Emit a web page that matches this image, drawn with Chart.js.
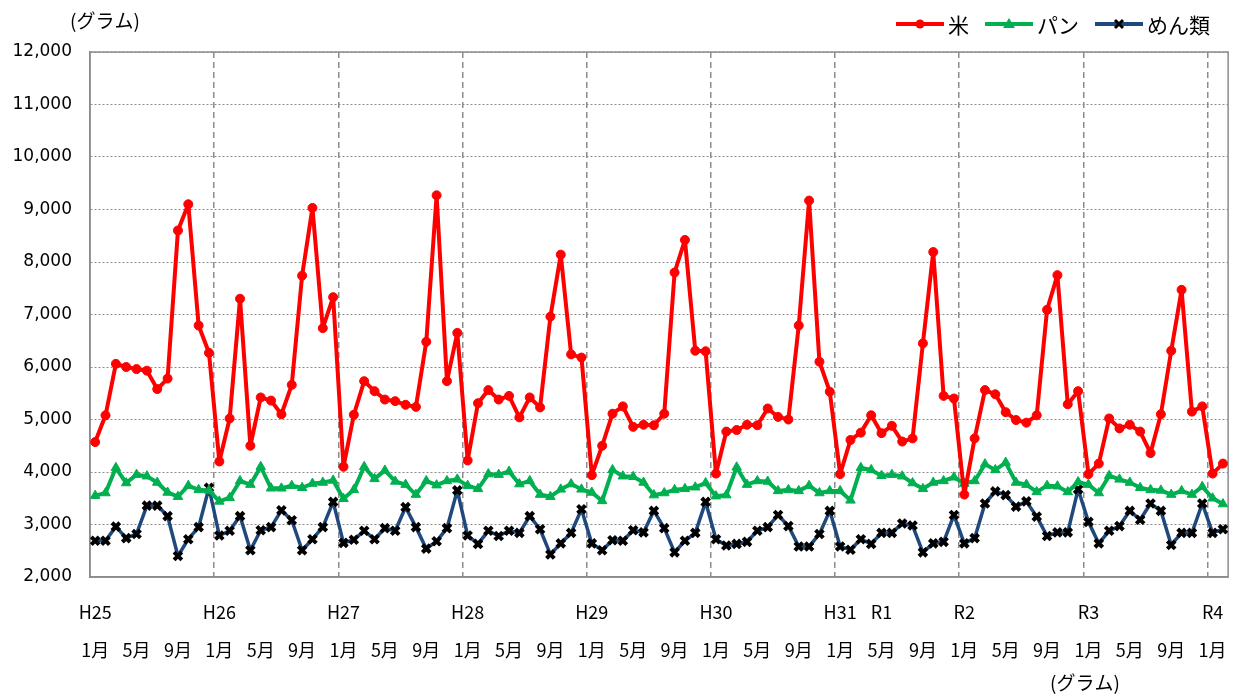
<!DOCTYPE html>
<html>
<head>
<meta charset="utf-8">
<script src="https://cdn.jsdelivr.net/npm/chart.js@4/dist/chart.umd.min.js"></script>
<style>
  html, body { margin: 0; padding: 0; background: #fff; }
  canvas { display: block; }
</style>
</head>
<body>
<canvas id="myChart" width="1239" height="695"></canvas>
<script>
// monthly values, H25 1月 .. R4 2月 (110 months)
const rice = [
  4570, 5080, 6060, 6000, 5960, 5930, 5580, 5780, 8600, 9100, 6790, 6270,
  4200, 5020, 7300, 4500, 5420, 5360, 5100, 5660, 7740, 9030, 6740, 7330,
  4100, 5090, 5730, 5540, 5380, 5350, 5280, 5240, 6480, 9270, 5730, 6650,
  4220, 5310, 5560, 5380, 5450, 5040, 5420, 5230, 6960, 8140, 6240, 6180,
  3940, 4500, 5110, 5250, 4860, 4900, 4890, 5110, 7800, 8420, 6310, 6300,
  3970, 4770, 4800, 4900, 4890, 5210, 5050, 5000, 6790, 9170, 6100, 5530,
  3960, 4610, 4750, 5080, 4740, 4880, 4580, 4640, 6450, 8190, 5450, 5400,
  3570, 4640, 5560, 5480, 5140, 4990, 4940, 5080, 7090, 7750, 5290, 5540,
  3960, 4160, 5020, 4830, 4900, 4770, 4360, 5100, 6310, 7470, 5150, 5250,
  3970, 4160
];
const bread = [
  3550, 3600, 4080, 3790, 3950, 3920, 3800, 3610, 3530, 3740, 3660, 3650,
  3440, 3510, 3830, 3760, 4100, 3690, 3690, 3740, 3700, 3780, 3800, 3840,
  3490, 3660, 4100, 3870, 4030, 3820, 3760, 3570, 3830, 3750, 3830, 3860,
  3740, 3680, 3960, 3950, 4010, 3770, 3830, 3570, 3530, 3670, 3770, 3670,
  3610, 3450, 4040, 3920, 3910, 3800, 3560, 3600, 3660, 3680, 3710, 3790,
  3540, 3560, 4090, 3760, 3830, 3820, 3640, 3660, 3640, 3740, 3600, 3640,
  3640, 3460, 4080, 4040, 3930, 3950, 3920, 3790, 3680, 3800, 3830, 3900,
  3780, 3830, 4150, 4040, 4180, 3800, 3760, 3620, 3740, 3730, 3620, 3810,
  3760, 3600, 3930, 3860, 3800, 3700, 3660, 3650, 3570, 3640, 3570, 3720,
  3500, 3390
];
const noodles = [
  2690, 2690, 2960, 2740, 2820, 3360, 3360, 3160, 2400, 2720, 2950, 3700,
  2790, 2880, 3160, 2510, 2890, 2950, 3270, 3080, 2510, 2720, 2950, 3430,
  2650, 2710, 2880, 2720, 2930, 2880, 3330, 2950, 2540, 2680, 2930, 3650,
  2790, 2630, 2880, 2780, 2880, 2840, 3160, 2910, 2430, 2640, 2840, 3290,
  2640, 2510, 2700, 2690, 2890, 2850, 3260, 2930, 2470, 2690, 2840, 3430,
  2720, 2600, 2630, 2670, 2880, 2950, 3180, 2970, 2580, 2580, 2820, 3260,
  2580, 2520, 2720, 2630, 2840, 2840, 3020, 2980, 2470, 2640, 2670, 3180,
  2640, 2740, 3400, 3630, 3560, 3340, 3440, 3150, 2780, 2850, 2850, 3670,
  3050, 2640, 2880, 2970, 3260, 3090, 3400, 3260, 2610, 2840, 2840, 3400,
  2840, 2910
];

// era labels and the month they sit on
const eraNames = ['H25', 'H26', 'H27', 'H28', 'H29', 'H30', 'H31', 'R1', 'R2', 'R3', 'R4'];
const eraIndex = [0, 12, 24, 36, 48, 60, 72, 76, 84, 96, 108];
const monthTicks = ['1月', '5月', '9月'];
const monthTickPos = [0, 4, 8];

const categories = [];
for (let i = 0; i < rice.length; i++) {
  const y = 2013 + Math.floor(i / 12);
  categories.push(y + '-' + ((i % 12) + 1));
}

const FONT = '"Noto Sans CJK JP", "Noto Sans", sans-serif';
const GRID = '#8c8c8c';

function tickLabel(i) {
  const e = eraIndex.indexOf(i);
  const m = monthTickPos.indexOf(i % 12);
  return [e >= 0 ? eraNames[e] : '', m >= 0 ? monthTicks[m] : ''];
}

// plot frame + free texts + excel-like legend
const decorations = {
  id: 'decorations',
  beforeDatasetsDraw(chart) {
    const { ctx, chartArea: a } = chart;
    ctx.save();
    ctx.strokeStyle = GRID;
    ctx.lineWidth = 1.5;
    ctx.strokeRect(a.left, a.top, a.width, a.height);
    ctx.restore();
  },
  afterDraw(chart) {
    const ctx = chart.ctx;
    ctx.save();
    ctx.fillStyle = '#000';
    ctx.textBaseline = 'middle';
    ctx.font = '19px ' + FONT;
    ctx.fillText('(グラム)', 70, 21);
    ctx.fillText('(グラム)', 1050, 683);

    let x = 896;
    const y = 24;
    ctx.font = '21px ' + FONT;
    chart.data.datasets.forEach(ds => {
      ctx.strokeStyle = ds.borderColor;
      ctx.lineWidth = 4;
      ctx.beginPath();
      ctx.moveTo(x, y);
      ctx.lineTo(x + 48, y);
      ctx.stroke();
      const cx = x + 24;
      ctx.fillStyle = ds.pointBackgroundColor;
      ctx.strokeStyle = ds.pointBorderColor;
      if (ds.pointStyle === 'circle') {
        ctx.beginPath();
        ctx.arc(cx, y, 4.5, 0, Math.PI * 2);
        ctx.fill();
      } else if (ds.pointStyle === 'triangle') {
        ctx.beginPath();
        ctx.moveTo(cx, y - 6);
        ctx.lineTo(cx + 6, y + 4);
        ctx.lineTo(cx - 6, y + 4);
        ctx.closePath();
        ctx.fill();
      } else {
        ctx.lineWidth = 3;
        ctx.beginPath();
        ctx.moveTo(cx - 4, y - 4); ctx.lineTo(cx + 4, y + 4);
        ctx.moveTo(cx + 4, y - 4); ctx.lineTo(cx - 4, y + 4);
        ctx.stroke();
      }
      ctx.fillStyle = '#000';
      ctx.fillText(ds.label, x + 52, y + 1);
      x += 52 + ctx.measureText(ds.label).width + 16;
    });
    ctx.restore();
  }
};

const ctx = document.getElementById('myChart').getContext('2d');

const chartData = {
  labels: categories,
  datasets: [
    {
      label: '米',
      data: rice,
      borderColor: '#ff0000',
      borderWidth: 4,
      borderJoinStyle: 'round',
      borderCapStyle: 'round',
      pointStyle: 'circle',
      pointRadius: 4.5,
      pointBackgroundColor: '#ff0000',
      pointBorderColor: '#ff0000',
      pointBorderWidth: 1,
      tension: 0
    },
    {
      label: 'パン',
      data: bread,
      borderColor: '#00b050',
      borderWidth: 4,
      borderJoinStyle: 'round',
      borderCapStyle: 'round',
      pointStyle: 'triangle',
      pointRadius: 5.5,
      pointBackgroundColor: '#00b050',
      pointBorderColor: '#00b050',
      pointBorderWidth: 1,
      tension: 0
    },
    {
      label: 'めん類',
      data: noodles,
      borderColor: '#1f497d',
      borderWidth: 3.5,
      borderJoinStyle: 'round',
      borderCapStyle: 'round',
      pointStyle: 'crossRot',
      pointRadius: 5.5,
      pointBackgroundColor: '#1f497d',
      pointBorderColor: '#000000',
      pointBorderWidth: 4,
      tension: 0
    }
  ]
};

const config = {
  type: 'line',
  data: chartData,
  plugins: [decorations],
  options: {
    responsive: false,
    animation: false,
    devicePixelRatio: 1,
    layout: { padding: { top: 52, right: 7, bottom: 0, left: 10 } },
    plugins: {
      legend: { display: false },
      tooltip: { enabled: false }
    },
    scales: {
      x: {
        offset: true,
        grid: {
          offset: true,
          drawTicks: false,
          lineWidth: 1.5,
          color: c => (c.index > 0 && c.index % 12 === 0) ? GRID : 'rgba(0,0,0,0)'
        },
        border: { display: true, color: GRID, width: 1.5, dash: [6, 4] },
        ticks: {
          autoSkip: false,
          maxRotation: 0,
          minRotation: 0,
          padding: 16,
          color: '#000',
          font: { family: FONT, size: 18, lineHeight: 2.1 },
          callback: (value, index) => tickLabel(index)
        },
        afterFit: s => { s.height = 118; }
      },
      y: {
        min: 2000,
        max: 12000,
        grid: { color: GRID, lineWidth: 1, drawTicks: false },
        border: { display: true, color: GRID, width: 1.5, dash: [2, 2] },
        ticks: {
          stepSize: 1000,
          padding: 18,
          color: '#000',
          font: { family: '"DejaVu Sans", sans-serif', size: 17 },
          callback: v => v.toLocaleString('en-US')
        },
        afterFit: s => { s.width = 80; }
      }
    }
  }
};

window.myChart = new Chart(ctx, config);
</script>
</body>
</html>
